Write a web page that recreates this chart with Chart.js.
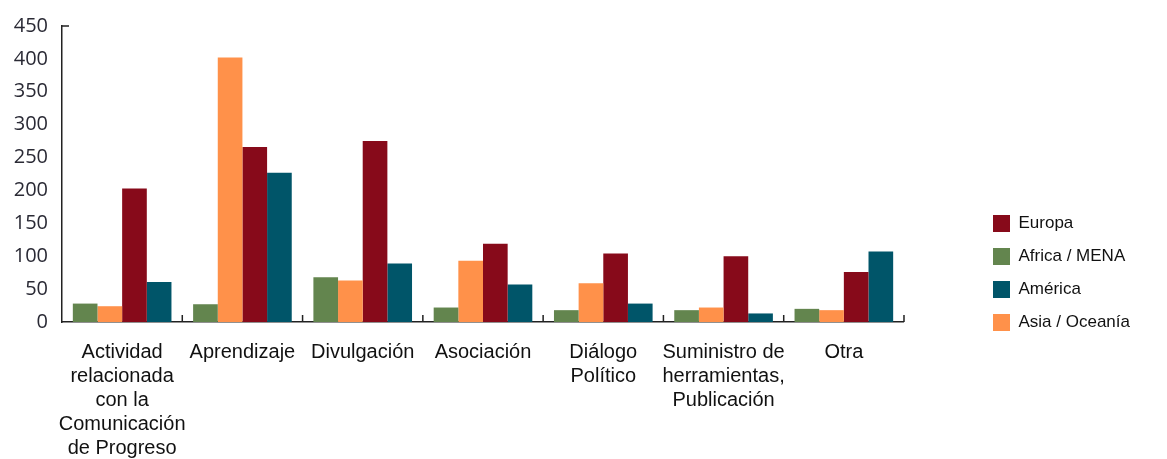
<!DOCTYPE html>
<html>
<head>
<meta charset="utf-8">
<script src="https://cdn.jsdelivr.net/npm/chart.js@4"></script>
<style>
  html, body { margin: 0; padding: 0; background: #fff; }
  #wrap { width: 1167px; height: 459px; }
</style>
</head>
<body>
<div id="wrap"><canvas id="myChart"></canvas></div>
<script>
/* categories, multi-line like the original */
let categories = [
    ['Actividad', 'relacionada', 'con la', 'Comunicación', 'de Progreso'],
    'Aprendizaje',
    'Divulgación',
    'Asociación',
    ['Diálogo', 'Político'],
    ['Suministro de', 'herramientas,', 'Publicación'],
    'Otra'
];

/* values */
let africa  = [28, 27, 68, 22, 18, 18, 20];
let asia    = [24, 402, 63, 93, 59, 22, 18];
let europa  = [203, 266, 275, 119, 104, 100, 76];
let america = [61, 227, 89, 57, 28, 13, 107];

let yTicks = [0, 50, 100, 150, 200, 250, 300, 350, 400, 450];

/* legend order in the original */
let legendOrder = ['Europa', 'Africa / MENA', 'América', 'Asia / Oceanía'];

/* small inward tick marks on the axes */
const axisTicks = {
    id: 'axisTicks',
    afterDraw(chart) {
        const ctx = chart.ctx;
        const x = chart.scales.x;
        const area = chart.chartArea;
        ctx.save();
        ctx.strokeStyle = '#222';
        ctx.lineWidth = 1.5;
        ctx.beginPath();
        for (let i = 0; i < categories.length; i++) {
            const px = x.getPixelForValue(i) + (x.getPixelForValue(1) - x.getPixelForValue(0)) / 2;
            ctx.moveTo(px, area.bottom);
            ctx.lineTo(px, area.bottom - 7);
        }
        ctx.moveTo(area.left, area.top);
        ctx.lineTo(area.left + 7, area.top);
        ctx.stroke();
        ctx.restore();
    }
};

/* push the legend down to sit level with the lower part of the plot */
const legendShift = {
    id: 'legendShift',
    afterLayout(chart) {
        chart.legend.top += 25;
        chart.legend.bottom += 25;
    }
};

const ctx = document.getElementById('myChart').getContext('2d');
const myChart = new Chart(ctx, {
    type: 'bar',
    data: {
        labels: categories,
        datasets: [
            { label: 'Africa / MENA', data: africa, backgroundColor: '#63854E' },
            { label: 'Asia / Oceanía', data: asia, backgroundColor: '#FF914A' },
            { label: 'Europa', data: europa, backgroundColor: '#870A1A' },
            { label: 'América', data: america, backgroundColor: '#005569' }
        ]
    },
    options: {
        responsive: true,
        maintainAspectRatio: false,
        animation: false,
        datasets: {
            bar: { categoryPercentage: 0.82, barPercentage: 1.0 }
        },
        layout: { padding: { top: 15, right: 27, left: 0, bottom: 0 } },
        scales: {
            x: {
                grid: { display: false, drawTicks: false },
                border: { display: true, color: '#222', width: 1.5 },
                ticks: {
                    color: '#111',
                    padding: 18,
                    maxRotation: 0,
                    autoSkip: false,
                    font: { family: 'Liberation Sans', size: 20, lineHeight: 1.2 }
                },
                afterFit: function(axis) { axis.height = 137; }
            },
            y: {
                min: 0,
                max: 450,
                grid: { display: false, drawTicks: false },
                border: { display: true, color: '#222', width: 1.5 },
                afterBuildTicks: function(axis) {
                    axis.ticks = yTicks.map(v => ({ value: v }));
                },
                ticks: {
                    color: '#2a2a35',
                    padding: 14,
                    font: { family: 'Open Sans', size: 20 }
                },
                afterFit: function(axis) { axis.width = 62; }
            },
            gap: {
                position: 'right',
                display: true,
                grid: { display: false, drawTicks: false },
                border: { display: false },
                ticks: { display: false },
                afterFit: function(axis) { axis.width = 73; }
            }
        },
        plugins: {
            legend: {
                position: 'right',
                align: 'end',
                fullSize: false,
                labels: {
                    color: '#111',
                    boxWidth: 17,
                    boxHeight: 17,
                    padding: 16,
                    font: { family: 'Liberation Sans', size: 17 },
                    sort: function(a, b) {
                        return legendOrder.indexOf(a.text) - legendOrder.indexOf(b.text);
                    }
                }
            },
            tooltip: { enabled: false }
        }
    },
    plugins: [axisTicks, legendShift]
});
</script>
</body>
</html>
